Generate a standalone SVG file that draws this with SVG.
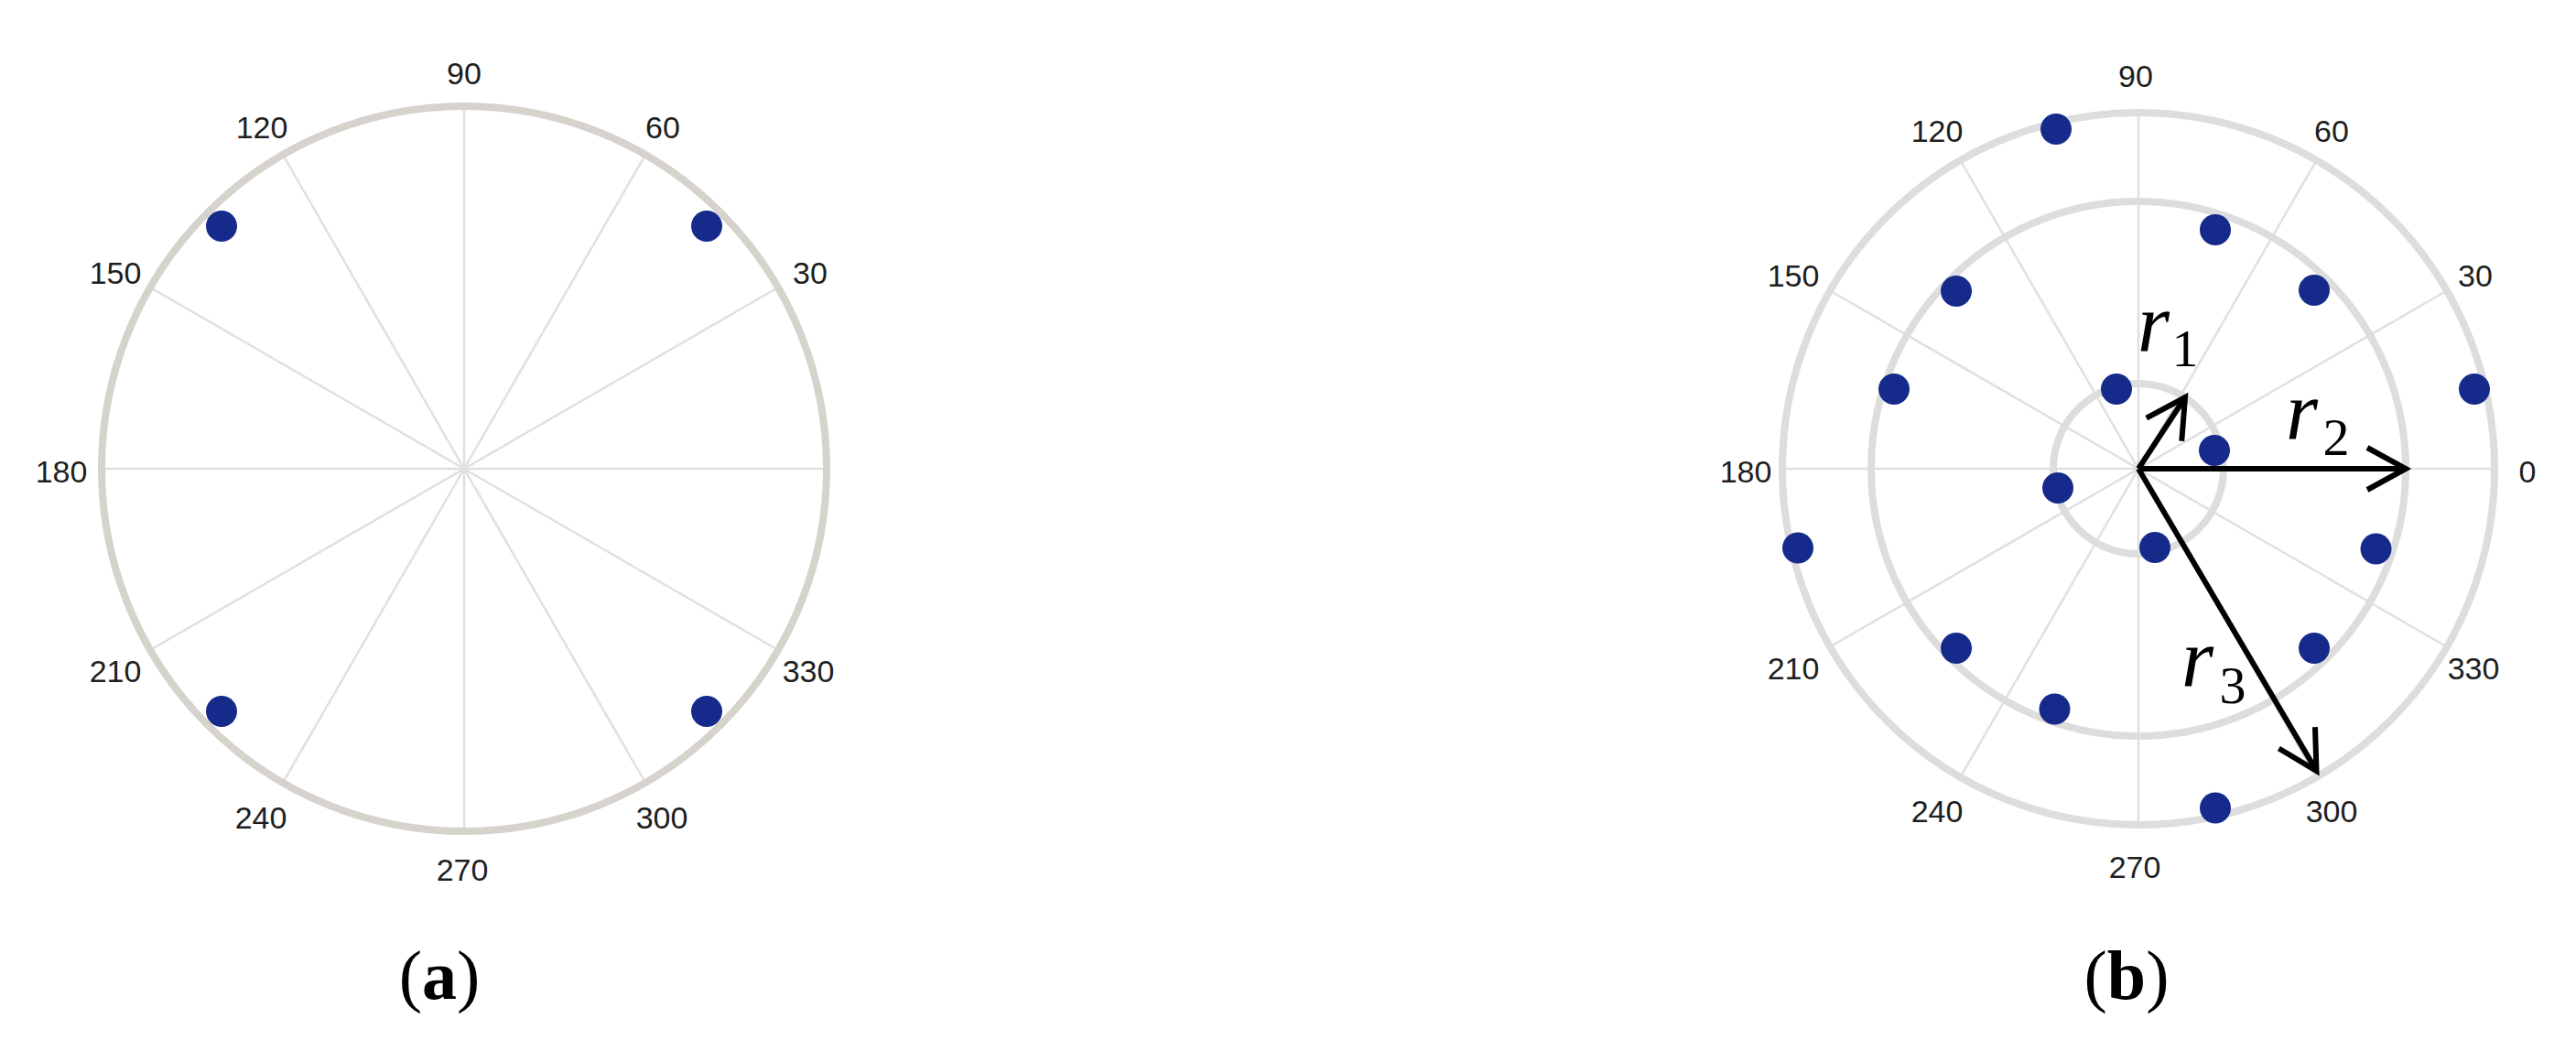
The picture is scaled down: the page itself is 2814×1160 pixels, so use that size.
<svg xmlns="http://www.w3.org/2000/svg" width="2814" height="1160" viewBox="0 0 2814 1160">
<style>
.bg{fill:#fff}
.spoke{stroke:#e0e0e0;stroke-width:2.5;fill:none}
.ringA{stroke:#d6d2cc;stroke-width:8;fill:none}
.ringB{stroke:#dddddd;stroke-width:8;fill:none}
.dot{fill:#162a8b}
.lbl{font-family:"Liberation Sans",Arial,sans-serif;font-size:34px;fill:#1e1e1e;text-anchor:middle}
.arrow{stroke:#000;stroke-width:6;fill:none;marker-end:url(#ah)}
.rv{font-family:"Liberation Serif","Times New Roman",serif;font-style:italic;font-size:90px;fill:#000}
.rs{font-family:"Liberation Serif","Times New Roman",serif;font-size:58px;fill:#000;text-anchor:middle}
.cap{font-family:"Liberation Serif","Times New Roman",serif;font-size:76px;fill:#000;text-anchor:middle}
</style>
<defs>
<marker id="ah" markerUnits="userSpaceOnUse" viewBox="-50 -30 60 60" refX="0" refY="0" markerWidth="60" markerHeight="60" orient="auto" overflow="visible">
<path d="M-42,-23 L0,0 L-42,23" fill="none" stroke="#000" stroke-width="6"/>
</marker>
</defs>
<rect class="bg" x="0" y="0" width="2814" height="1160"/>

<g id="plotA">
<g id="gridA">
<line class="spoke" x1="111" y1="512" x2="903" y2="512"/>
<line class="spoke" x1="507" y1="116" x2="507" y2="908"/>
<line class="spoke" x1="849.9" y1="314" x2="164.1" y2="710"/>
<line class="spoke" x1="705" y1="169.1" x2="309" y2="854.9"/>
<line class="spoke" x1="309" y1="169.1" x2="705" y2="854.9"/>
<line class="spoke" x1="164.1" y1="314" x2="849.9" y2="710"/>
<circle class="ringA" cx="507" cy="512" r="396"/>
</g>
<g id="dotsA">
<circle class="dot" cx="242" cy="247" r="17"/>
<circle class="dot" cx="772" cy="247" r="17"/>
<circle class="dot" cx="242" cy="777" r="17"/>
<circle class="dot" cx="772" cy="777" r="17"/>
</g>
<g id="labelsA">
<text class="lbl" x="507" y="92">90</text>
<text class="lbl" x="286" y="151">120</text>
<text class="lbl" x="724" y="151">60</text>
<text class="lbl" x="126" y="310">150</text>
<text class="lbl" x="885" y="310">30</text>
<text class="lbl" x="67" y="527">180</text>
<text class="lbl" x="126" y="745">210</text>
<text class="lbl" x="883" y="745">330</text>
<text class="lbl" x="285" y="905">240</text>
<text class="lbl" x="723" y="905">300</text>
<text class="lbl" x="505" y="962">270</text>
</g>
<text id="capA" class="cap" x="480" y="1091">(<tspan font-weight="bold">a</tspan>)</text>
</g>

<g id="plotB">
<g id="gridB">
<line class="spoke" x1="1947" y1="512" x2="2725" y2="512"/>
<line class="spoke" x1="2336" y1="123" x2="2336" y2="901"/>
<line class="spoke" x1="2672.9" y1="317.5" x2="1999.1" y2="706.5"/>
<line class="spoke" x1="2530.5" y1="175.1" x2="2141.5" y2="848.9"/>
<line class="spoke" x1="2141.5" y1="175.1" x2="2530.5" y2="848.9"/>
<line class="spoke" x1="1999.1" y1="317.5" x2="2672.9" y2="706.5"/>
<circle class="ringB" cx="2336" cy="512" r="389"/>
<circle class="ringB" cx="2336" cy="512" r="292"/>
<circle class="ringB" cx="2336" cy="512" r="93"/>
</g>
<g id="dotsB">
<circle class="dot" cx="2703" cy="425" r="17"/>
<circle class="dot" cx="2246" cy="141" r="17"/>
<circle class="dot" cx="1964" cy="598.5" r="17"/>
<circle class="dot" cx="2420" cy="882.5" r="17"/>
<circle class="dot" cx="2312" cy="425" r="17"/>
<circle class="dot" cx="2419" cy="492" r="17"/>
<circle class="dot" cx="2248" cy="533" r="17"/>
<circle class="dot" cx="2354" cy="598" r="17"/>
<circle class="dot" cx="2528" cy="317" r="17"/>
<circle class="dot" cx="2420" cy="251" r="17"/>
<circle class="dot" cx="2137" cy="318" r="17"/>
<circle class="dot" cx="2069" cy="425" r="17"/>
<circle class="dot" cx="2137" cy="708" r="17"/>
<circle class="dot" cx="2244.5" cy="774.5" r="17"/>
<circle class="dot" cx="2528" cy="708" r="17"/>
<circle class="dot" cx="2595.5" cy="599.5" r="17"/>
</g>
<g id="connectors">
<line class="arrow" x1="2336" y1="512" x2="2387" y2="434"/>
<line class="arrow" x1="2336" y1="512" x2="2628" y2="512"/>
<line class="arrow" x1="2336" y1="512" x2="2530.5" y2="842"/>
</g>
<g id="vectorLabels">
<text class="rv" x="2335" y="383">r</text><text class="rs" x="2387" y="400">1</text>
<text class="rv" x="2497" y="479">r</text><text class="rs" x="2552" y="497">2</text>
<text class="rv" x="2383" y="749">r</text><text class="rs" x="2439" y="768">3</text>
</g>
<g id="labelsB">
<text class="lbl" x="2333" y="95">90</text>
<text class="lbl" x="2116" y="155">120</text>
<text class="lbl" x="2547" y="155">60</text>
<text class="lbl" x="1959" y="313">150</text>
<text class="lbl" x="2704" y="313">30</text>
<text class="lbl" x="1907" y="527">180</text>
<text class="lbl" x="2761" y="527">0</text>
<text class="lbl" x="1959" y="742">210</text>
<text class="lbl" x="2702" y="742">330</text>
<text class="lbl" x="2116" y="898">240</text>
<text class="lbl" x="2547" y="898">300</text>
<text class="lbl" x="2332" y="959">270</text>
</g>
<text id="capB" class="cap" x="2323" y="1091">(<tspan font-weight="bold">b</tspan>)</text>
</g>
</svg>
